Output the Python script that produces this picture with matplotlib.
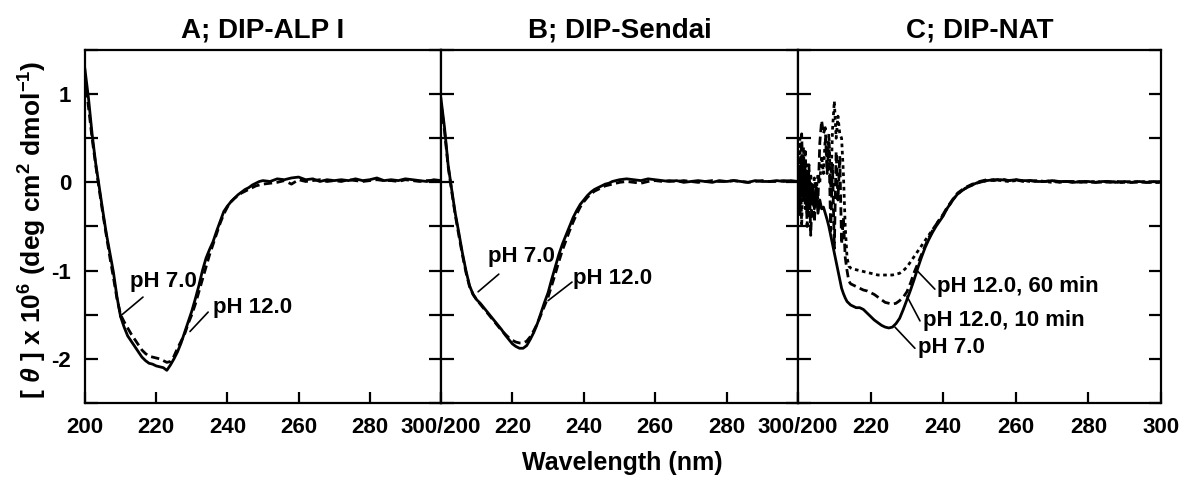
import numpy as np
import matplotlib
matplotlib.use("Agg")
import matplotlib.pyplot as plt

plt.rcParams['font.family'] = ['Liberation Sans', 'DejaVu Sans']
plt.rcParams['font.weight'] = 'bold'
plt.rcParams['mathtext.fontset'] = 'custom'
plt.rcParams['mathtext.rm'] = 'Liberation Sans:bold'
plt.rcParams['mathtext.it'] = 'Liberation Sans:bold:italic'
plt.rcParams['mathtext.bf'] = 'Liberation Sans:bold'

# ---------------- data ----------------
panel_titles = ["A; DIP-ALP I", "B; DIP-Sendai", "C; DIP-NAT"]

wl_AB = np.concatenate([np.arange(200, 251, 1), np.arange(252, 301, 2)])
wl_C = np.concatenate([np.arange(200, 215.5, 0.5), np.arange(216, 251, 1), np.arange(252, 301, 2)])

A_pH7 = [1.28, 0.95, 0.55, 0.22, -0.05, -0.32, -0.58, -0.80, -1.02, -1.30,
         -1.52, -1.64, -1.74, -1.80, -1.86, -1.92, -1.98, -2.02, -2.05, -2.06,
         -2.08, -2.09, -2.10, -2.13, -2.07, -2.00, -1.92, -1.82, -1.70, -1.58,
         -1.46, -1.32, -1.17, -1.00, -0.86, -0.76, -0.67, -0.55, -0.44, -0.33,
         -0.27, -0.22, -0.18, -0.14, -0.11, -0.08, -0.06, -0.03, -0.01, 0.01,
         0.02,
         0.01, 0.04, 0.03, 0.05, 0.06, 0.03, 0.04, 0.01, 0.03, 0.02, 0.03, 0.02, 0.04,
         0.02, 0.03, 0.05, 0.02, 0.03, 0.02, 0.04, 0.03, 0.02, 0.01, 0.03, 0.02]
A_pH12 = [1.20, 0.85, 0.50, 0.20, -0.08, -0.35, -0.60, -0.85, -1.08, -1.32,
          -1.50, -1.58, -1.65, -1.72, -1.78, -1.84, -1.90, -1.94, -1.97, -1.98,
          -1.99, -2.00, -2.02, -2.04, -2.03, -1.97, -1.88, -1.80, -1.72, -1.60,
          -1.50, -1.38, -1.24, -1.10, -0.96, -0.82, -0.70, -0.58, -0.46, -0.36,
          -0.28, -0.22, -0.18, -0.15, -0.12, -0.10, -0.08, -0.06, -0.04, -0.03,
          -0.02,
          -0.01, 0.00, 0.02, -0.02, 0.03, 0.01, 0.02, 0.03, 0.01, 0.02, 0.01, 0.03, 0.02,
          0.01, 0.02, 0.03, 0.02, 0.02, 0.01, 0.03, 0.02, 0.01, 0.02, 0.02, 0.01]

B_pH7 = [0.95, 0.62, 0.20, -0.08, -0.35, -0.57, -0.80, -1.00, -1.17, -1.27,
         -1.33, -1.37, -1.42, -1.47, -1.52, -1.57, -1.62, -1.67, -1.73, -1.78,
         -1.83, -1.86, -1.88, -1.88, -1.85, -1.78, -1.70, -1.60, -1.48, -1.36,
         -1.25, -1.10, -0.96, -0.82, -0.70, -0.60, -0.50, -0.40, -0.32, -0.25,
         -0.20, -0.15, -0.11, -0.08, -0.06, -0.04, -0.02, -0.01, 0.01, 0.02,
         0.03,
         0.04, 0.03, 0.02, 0.04, 0.03, 0.02, 0.01, 0.02, 0.00, 0.01, 0.02, 0.01, 0.00,
         0.02, 0.01, 0.02, 0.01, 0.00, 0.02, 0.01, 0.01, 0.02, 0.01, 0.02, 0.01]
B_pH12 = [0.90, 0.58, 0.18, -0.10, -0.37, -0.60, -0.82, -1.02, -1.18, -1.27,
          -1.33, -1.38, -1.43, -1.48, -1.53, -1.58, -1.63, -1.68, -1.72, -1.76,
          -1.79, -1.81, -1.82, -1.82, -1.80, -1.75, -1.68, -1.60, -1.50, -1.40,
          -1.30, -1.17, -1.04, -0.90, -0.77, -0.66, -0.55, -0.45, -0.36, -0.28,
          -0.22, -0.17, -0.13, -0.10, -0.08, -0.06, -0.04, -0.03, -0.02, -0.01,
          0.00,
          0.01, 0.00, -0.01, 0.01, 0.02, 0.01, 0.02, 0.01, 0.02, 0.01, 0.00, 0.01, 0.02,
          0.01, 0.01, 0.02, 0.01, 0.00, 0.01, 0.02, 0.01, 0.01, 0.02, 0.01, 0.01]

C_pH7 = [0.10, -0.30, 0.30, -0.20, 0.15, -0.35, 0.05, -0.25, -0.05, -0.30,
         -0.10, -0.35, -0.20, -0.30, -0.28, -0.35, -0.42, -0.50, -0.60, -0.70,
         -0.80, -0.90, -1.00, -1.10, -1.20, -1.26, -1.31, -1.35, -1.37, -1.39,
         -1.40,
         -1.42, -1.42, -1.44, -1.48, -1.52, -1.56, -1.59, -1.62, -1.64, -1.65,
         -1.64, -1.60, -1.54, -1.44, -1.33, -1.22, -1.10, -0.97, -0.85, -0.74,
         -0.65, -0.57, -0.50, -0.44, -0.38, -0.30, -0.24, -0.18, -0.13, -0.10,
         -0.07, -0.05, -0.03, -0.01, 0.00,
         0.02, 0.03, 0.03, 0.02, 0.03, 0.02, 0.02, 0.01, 0.01, 0.02, 0.01, 0.01, 0.00,
         0.01, 0.01, 0.00, 0.01, 0.01, 0.00, 0.01, 0.00, 0.01, 0.00, 0.01, 0.00]
C_pH12_10 = [0.30, -0.40, 0.55, -0.20, 0.35, -0.50, 0.20, -0.60, 0.00, -0.45,
             -0.05, -0.20, 0.45, 0.70, 0.55, 0.62, 0.10, 0.45, -0.55, 0.20,
             -0.75, 0.35, -0.20, 0.30, -0.70, -0.40, -0.85, -1.00, -1.12, -1.15,
             -1.16,
             -1.18, -1.20, -1.22, -1.23, -1.25, -1.27, -1.30, -1.33, -1.36, -1.37,
             -1.38, -1.37, -1.34, -1.30, -1.24, -1.14, -1.02, -0.92, -0.82, -0.72,
             -0.63, -0.55, -0.48, -0.42, -0.36, -0.29, -0.23, -0.17, -0.12, -0.09,
             -0.06, -0.04, -0.02, -0.01, 0.01,
             0.03, 0.02, 0.04, 0.02, 0.03, 0.01, 0.02, 0.01, 0.01, 0.02, 0.00, 0.01, 0.01,
             0.00, 0.01, 0.00, 0.01, 0.00, 0.01, 0.00, 0.00, 0.01, 0.00, 0.00, 0.01]
C_pH12_60 = [-0.10, 0.50, -0.50, 0.40, -0.30, 0.20, -0.40, 0.10, -0.20, 0.05,
             -0.10, 0.10, 0.00, 0.30, 0.10, 0.50, 0.30, 0.55, -0.10, 0.60,
             0.92, 0.50, 0.75, 0.55, 0.50, 0.10, -0.50, -0.85, -0.95, -0.97,
             -0.98,
             -0.99, -1.00, -1.01, -1.02, -1.03, -1.04, -1.05, -1.05, -1.05, -1.05,
             -1.05, -1.04, -1.03, -1.00, -0.96, -0.90, -0.84, -0.78, -0.72, -0.66,
             -0.60, -0.54, -0.48, -0.42, -0.37, -0.30, -0.24, -0.18, -0.13, -0.10,
             -0.07, -0.05, -0.03, -0.01, 0.00,
             0.02, 0.03, 0.02, 0.01, 0.02, 0.02, 0.01, 0.02, 0.01, 0.00, 0.01, 0.01, 0.00,
             0.01, 0.00, 0.01, 0.00, 0.01, 0.00, 0.00, 0.01, 0.00, 0.01, 0.00, 0.00]

x_ticks = [200, 220, 240, 260, 280, 300]
x_labels_A = ['200', '220', '240', '260', '280', '300/200']
x_labels_B = ['', '220', '240', '260', '280', '300/200']
x_labels_C = ['', '220', '240', '260', '280', '300']
y_major = [-2, -1, 0, 1]
y_labels = ['-2', '-1', '0', '1']
y_minor = [-2.5, -1.5, -0.5, 0.5, 1.5]

# ---------------- figure ----------------
fig = plt.figure(figsize=(11.8, 4.84), dpi=100)
bottom, height = 0.1674, 0.7293
lefts = [0.0720, 0.3737, 0.6763]
widths = [0.3017, 0.3026, 0.3076]
axes = [fig.add_axes([lefts[i], bottom, widths[i], height]) for i in range(3)]

LW = 2.0
dash = (0, (3.0, 1.6))
dot = (0, (1.3, 1.3))

axes[0].plot(wl_AB, A_pH7, color='black', lw=LW, ls='-')
axes[0].plot(wl_AB, A_pH12, color='black', lw=LW, ls=dash)
axes[1].plot(wl_AB, B_pH7, color='black', lw=LW, ls='-')
axes[1].plot(wl_AB, B_pH12, color='black', lw=LW, ls=dash)
axes[2].plot(wl_C, C_pH7, color='black', lw=LW, ls='-')
axes[2].plot(wl_C, C_pH12_10, color='black', lw=LW, ls=dash)
axes[2].plot(wl_C, C_pH12_60, color='black', lw=LW, ls=dot)

xlabs = [x_labels_A, x_labels_B, x_labels_C]
for i, ax in enumerate(axes):
    ax.set_xlim(200, 300)
    ax.set_ylim(-2.5, 1.5)
    ax.set_xticks(x_ticks)
    ax.set_xticklabels(xlabs[i], fontsize=16, fontweight='bold')
    ax.set_yticks(y_major)
    ax.set_yticks(y_minor, minor=True)
    if i == 0:
        ax.set_yticklabels(y_labels, fontsize=16, fontweight='bold')
    else:
        ax.set_yticklabels([])
    for s in ax.spines.values():
        s.set_linewidth(1.6)
    ax.tick_params(axis='both', which='both', direction='in', width=1.6,
                   left=True, right=True, top=False)
    ax.tick_params(axis='y', which='both', length=9, pad=10)
    ax.tick_params(axis='x', which='major', length=8, pad=10)
    ax.set_title(panel_titles[i], fontsize=20, fontweight='bold', pad=9)


def label(ax, text, tip, start, pos):
    ax.annotate('', xy=tip, xytext=start,
                arrowprops=dict(arrowstyle='-', color='black', lw=1.2,
                                shrinkA=0, shrinkB=0))
    ax.text(pos[0], pos[1], text, fontsize=16, fontweight='bold',
            ha='left', va='center')


label(axes[0], 'pH 7.0', (209.8, -1.52), (216.3, -1.30), (212.6, -1.12))
label(axes[0], 'pH 12.0', (229.5, -1.69), (234.6, -1.47), (236.0, -1.42))
label(axes[1], 'pH 7.0', (210.4, -1.24), (216.2, -1.04), (213.2, -0.84))
label(axes[1], 'pH 12.0', (230.0, -1.34), (236.7, -1.13), (237.0, -1.09))
label(axes[2], 'pH 12.0, 60 min', (232.8, -1.00), (237.7, -1.21), (238.3, -1.18))
label(axes[2], 'pH 12.0, 10 min', (230.0, -1.29), (233.6, -1.57), (234.4, -1.56))
label(axes[2], 'pH 7.0', (226.7, -1.64), (232.2, -1.88), (233.1, -1.87))

fig.text(0.527, 0.043, 'Wavelength (nm)', ha='center', va='center',
         fontsize=18, fontweight='bold')
fig.text(0.028, 0.525, r'[ $\mathit{\theta}$ ] x 10$^{6}$ (deg cm$^{2}$ dmol$^{-1}$)',
         rotation=90, ha='center', va='center', fontsize=19, fontweight='bold')

fig.savefig('out.png', dpi=100)
